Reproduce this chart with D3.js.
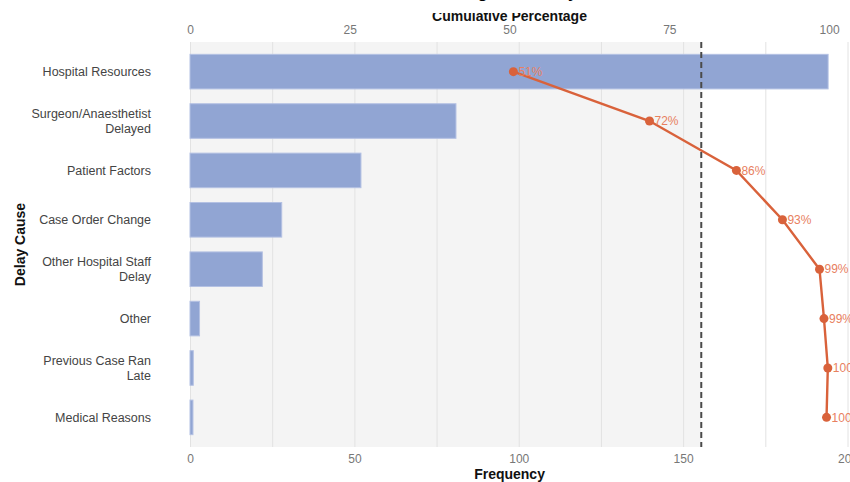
<!DOCTYPE html>
<html>
<head>
<meta charset="utf-8">
<script src="https://cdn.jsdelivr.net/npm/d3@7"></script>
<style>
  body { margin: 0; background: #fff; }
  svg { display: block; font-family: "Liberation Sans", Arial, Helvetica, sans-serif; }
</style>
</head>
<body>
<div id="pareto"><svg width="850" height="482"></svg></div>
<script>
// delay causes, top to bottom ("\n" = line break in the label)
var causes = [
  "Hospital Resources",
  "Surgeon/Anaesthetist\nDelayed",
  "Patient Factors",
  "Case Order Change",
  "Other Hospital Staff\nDelay",
  "Other",
  "Previous Case Ran\nLate",
  "Medical Reasons"
];
// bar lengths as read on the Frequency axis
var frequency = [194.1, 80.9, 52.0, 27.9, 22.0, 2.9, 1.0, 0.9];
// cumulative percentage points as read on the top axis
var cumulativePct = [50.6, 71.9, 85.5, 92.7, 98.5, 99.2, 99.8, 99.6];
var pctLabels = ["51%", "72%", "86%", "93%", "99%", "99%", "100%", "100%"];
var freqTicks = [0, 50, 100, 150, 200];
var gridTicks = [0, 25, 50, 75, 100, 125, 150, 175, 200];
var pctTicks = [0, 25, 50, 75, 100];
var pctMaxFreq = 194.4;   // frequency value sitting under 100% on the top axis
var cutoffPct = 80;

var svg = d3.select("#pareto").select("svg");
var margin = {top: 42, right: 2.5, bottom: 35, left: 190};
var width = +svg.attr("width") - margin.left - margin.right;
var height = +svg.attr("height") - margin.top - margin.bottom;
var g = svg.append("g").attr("transform", "translate(" + margin.left + "," + margin.top + ")");

var x = d3.scaleLinear().domain([0, 200]).range([0, width]);
var xPct = d3.scaleLinear().domain([0, 100]).range([0, x(pctMaxFreq)]);
var y = d3.scaleBand().domain(causes).range([0, height]).paddingInner(0.3).paddingOuter(0.25);

var rows = causes.map(function(c, i) {
  return {cause: c, freq: frequency[i], pct: cumulativePct[i], label: pctLabels[i]};
});

// shaded "vital few" region up to the 80% cutoff
g.append("rect")
  .attr("x", 0).attr("y", 0)
  .attr("width", xPct(cutoffPct))
  .attr("height", height)
  .attr("fill", "#f4f4f4");

// vertical grid
g.append("g")
  .selectAll("line")
  .data(gridTicks)
  .enter().append("line")
    .attr("x1", function(d) { return x(d) + 0.5; })
    .attr("x2", function(d) { return x(d) + 0.5; })
    .attr("y1", 0).attr("y2", height)
    .attr("stroke", "#e2e2e2")
    .attr("stroke-width", 1);

// bars
g.append("g")
  .selectAll("rect")
  .data(rows)
  .enter().append("rect")
    .attr("x", 0)
    .attr("y", function(d) { return y(d.cause); })
    .attr("width", function(d) { return x(d.freq); })
    .attr("height", y.bandwidth())
    .attr("fill", "#91a5d3")
    .attr("stroke", "#b4c1e3")
    .attr("stroke-width", 1);

// 80% cutoff
g.append("line")
  .attr("x1", xPct(cutoffPct)).attr("x2", xPct(cutoffPct))
  .attr("y1", 0).attr("y2", height)
  .attr("stroke", "#4a4a4a")
  .attr("stroke-width", 2)
  .attr("stroke-dasharray", "6,4");

// cumulative line
var line = d3.line()
  .x(function(d) { return xPct(d.pct); })
  .y(function(d) { return y(d.cause) + y.bandwidth() / 2; });

g.append("path")
  .datum(rows)
  .attr("fill", "none")
  .attr("stroke", "#d9623b")
  .attr("stroke-width", 2.4)
  .attr("d", line);

g.append("g")
  .selectAll("circle")
  .data(rows)
  .enter().append("circle")
    .attr("cx", function(d) { return xPct(d.pct); })
    .attr("cy", function(d) { return y(d.cause) + y.bandwidth() / 2; })
    .attr("r", 4.5)
    .attr("fill", "#d9623b");

g.append("g")
  .selectAll("text")
  .data(rows)
  .enter().append("text")
    .attr("x", function(d) { return xPct(d.pct) + 5; })
    .attr("y", function(d) { return y(d.cause) + y.bandwidth() / 2; })
    .attr("dy", "0.35em")
    .attr("font-size", 12)
    .attr("fill", "#e8805f")
    .text(function(d) { return d.label; });

// axes
var bottomAxis = g.append("g")
  .attr("transform", "translate(0," + height + ")")
  .call(d3.axisBottom(x).tickValues(freqTicks).tickSize(0).tickPadding(7));

var topAxis = g.append("g")
  .call(d3.axisTop(xPct).tickValues(pctTicks).tickSize(0).tickPadding(8));

var leftAxis = g.append("g")
  .call(d3.axisLeft(y).tickSize(0).tickPadding(39));

[bottomAxis, topAxis, leftAxis].forEach(function(a) {
  a.select(".domain").remove();
  a.selectAll("text").attr("font-family", null);
});
bottomAxis.selectAll("text").attr("font-size", 12).attr("fill", "#777");
topAxis.selectAll("text").attr("font-size", 12).attr("fill", "#777");

leftAxis.selectAll(".tick text")
  .attr("font-size", 12.5)
  .attr("fill", "#444")
  .each(function(d) {
    var parts = d.split("\n");
    var t = d3.select(this).text(null).attr("dy", null);
    parts.forEach(function(p, i) {
      t.append("tspan")
        .attr("x", -39)
        .attr("dy", i === 0 ? (0.35 - (parts.length - 1) * 0.58) + "em" : "1.16em")
        .text(p);
    });
  });

// axis titles
g.append("text")
  .attr("x", xPct(50))
  .attr("y", height + 32)
  .attr("text-anchor", "middle")
  .attr("font-size", 14)
  .attr("font-weight", "bold")
  .attr("fill", "#111")
  .text("Frequency");

svg.append("text")
  .attr("transform", "translate(25," + (margin.top + height / 2) + ") rotate(-90)")
  .attr("text-anchor", "middle")
  .attr("font-size", 14)
  .attr("font-weight", "bold")
  .attr("fill", "#111")
  .text("Delay Cause");

svg.append("text")
  .attr("x", margin.left + xPct(50))
  .attr("y", 21)
  .attr("text-anchor", "middle")
  .attr("font-size", 14)
  .attr("font-weight", "bold")
  .attr("fill", "#111")
  .text("Cumulative Percentage");

// chart title, mostly above the visible frame
svg.append("rect")
  .attr("x", 0).attr("y", 0)
  .attr("width", 850).attr("height", 13)
  .attr("fill", "#fff");

svg.append("text")
  .attr("x", 434)
  .attr("y", -2)
  .attr("text-anchor", "middle")
  .attr("font-size", 17)
  .attr("font-weight", "bold")
  .attr("fill", "#000")
  .text("Pareto Chart of Theatre Running Late Delay Causes");
</script>
</body>
</html>
